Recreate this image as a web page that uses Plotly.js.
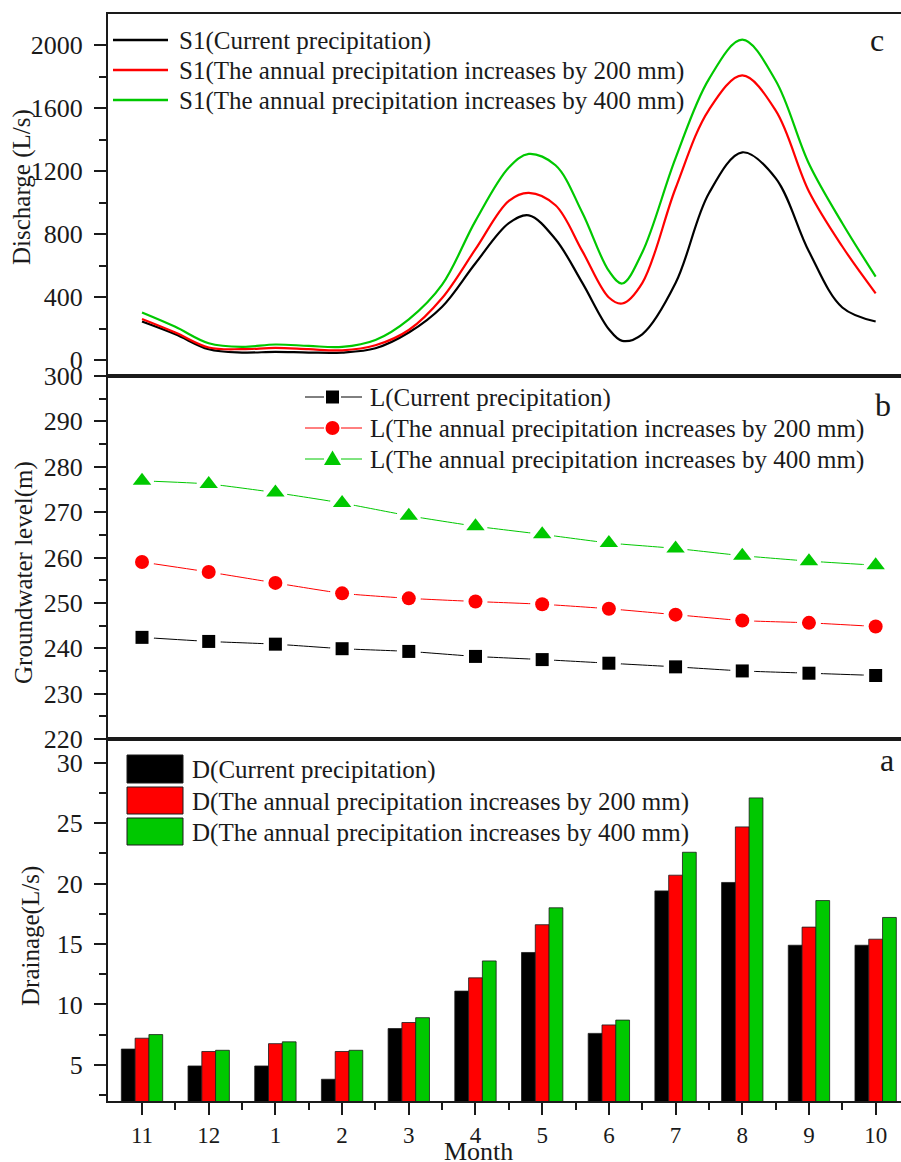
<!DOCTYPE html>
<html><head><meta charset="utf-8">
<script src="https://cdn.plot.ly/plotly-3.0.1.min.js"></script>
<style>html,body{margin:0;padding:0;background:#fff;overflow:hidden}#chart{width:901px;height:1162px}
#chart text{font-family:'Liberation Serif' !important;}</style>
</head><body><div id="chart"></div>
<script>
// ---------- data ----------
const months = ['11','12','1','2','3','4','5','6','7','8','9','10'];

// panel a: drainage (L/s)
const drainCurrent = [6.3, 4.9, 4.9, 3.8, 8.0, 11.1, 14.3, 7.6, 19.4, 20.1, 14.9, 14.9];
const drain200     = [7.2, 6.1, 6.75, 6.1, 8.5, 12.2, 16.6, 8.3, 20.7, 24.7, 16.4, 15.4];
const drain400     = [7.5, 6.2, 6.9, 6.2, 8.9, 13.6, 18.0, 8.7, 22.6, 27.1, 18.6, 17.2];
const drainTicks   = [5, 10, 15, 20, 25, 30];

// panel b: groundwater level (m)
const levelCurrent = [242.4, 241.5, 240.9, 239.9, 239.3, 238.2, 237.5, 236.7, 235.9, 235.0, 234.5, 234.0];
const level200     = [259.0, 256.8, 254.4, 252.1, 251.0, 250.3, 249.7, 248.7, 247.4, 246.1, 245.6, 244.8];
const level400     = [276.9, 276.2, 274.3, 272.0, 269.2, 266.9, 265.1, 263.2, 262.0, 260.4, 259.2, 258.3];
const levelTicks   = [220, 230, 240, 250, 260, 270, 280, 290, 300];

// panel c: discharge (L/s) (position in months from "11")
const dischargePos     = [0, 0.5, 1, 1.5, 2, 2.5, 3, 3.5, 4, 4.5, 5, 5.5, 5.8, 6.2, 6.6, 7, 7.2, 7.5, 8, 8.5, 9, 9.5, 10, 10.5, 11];
const dischargeCurrent = [246, 165, 70, 49, 53, 49, 49, 76, 176, 340, 616, 870, 920, 768, 493, 197, 123, 165, 490, 1060, 1320, 1156, 690, 335, 246];
const discharge200     = [262, 176, 81, 70, 78, 70, 63, 95, 192, 395, 705, 1012, 1063, 984, 694, 398, 360, 490, 1092, 1590, 1808, 1586, 1071, 722, 425];
const discharge400     = [303, 212, 108, 85, 100, 91, 85, 129, 260, 480, 885, 1224, 1310, 1238, 938, 567, 487, 684, 1283, 1785, 2035, 1776, 1247, 870, 531];
const dischargeTicks   = [0, 400, 800, 1200, 1600, 2000];

const legendC = ['S1(Current precipitation)', 'S1(The annual precipitation increases by 200 mm)', 'S1(The annual precipitation increases by 400 mm)'];
const legendB = ['L(Current precipitation)', 'L(The annual precipitation increases by 200 mm)', 'L(The annual precipitation increases by 400 mm)'];
const legendA = ['D(Current precipitation)', 'D(The annual precipitation increases by 200 mm)', 'D(The annual precipitation increases by 400 mm)'];
const panelLabels = ['c', 'b', 'a'];
const yTitles = ['Discharge (L/s)', 'Groundwater level(m)', 'Drainage(L/s)'];
const xTitle = 'Month';

// ---------- layout helpers ----------
const W = 901, H = 1162, ML = 108, MR = 0, MT = 14, MB = 61;
const PW = W - ML - MR, PH = H - MT - MB;
const px = x => (x - ML) / PW;
const py = y => (H - MB - y) / PH;
const BLACK = '#000000', RED = '#ff0000', GREEN = '#00c800';
const TXT = '#1a1a1a';
const FONT = 'Liberation Serif';
const idx = months.map((m, i) => i);
const XR = [-0.51, 11.38];

const domA = [0, py(739)], domB = [py(739), py(376)], domC = [py(376), 1];

const traces = [];
// panel c
[[dischargeCurrent, BLACK, legendC[0]], [discharge200, RED, legendC[1]], [discharge400, GREEN, legendC[2]]].forEach(([v, c, n]) => {
  traces.push({type: 'scatter', mode: 'lines', x: dischargePos, y: v, name: n, xaxis: 'x3', yaxis: 'y3',
    line: {color: c, width: 2.2, shape: 'spline', smoothing: 1}, showlegend: false});
});
// panel b
const bSeries = [[levelCurrent, BLACK, 'square', 13, legendB[0]], [level200, RED, 'circle', 14, legendB[1]], [level400, GREEN, 'triangle-up', 16, legendB[2]]];
bSeries.forEach(([v, c, s, sz, n]) => {
  traces.push({type: 'scatter', mode: 'lines', x: idx, y: v, name: n, xaxis: 'x2', yaxis: 'y2',
    line: {color: c, width: 1, shape: 'spline', smoothing: 0.5}, showlegend: false});
});
bSeries.forEach(([v, c, s, sz, n]) => {
  traces.push({type: 'scatter', mode: 'markers', x: idx, y: v, xaxis: 'x2', yaxis: 'y2',
    marker: {symbol: 'circle', size: 24, color: '#ffffff'}, showlegend: false});
});
bSeries.forEach(([v, c, s, sz, n]) => {
  traces.push({type: 'scatter', mode: 'markers', x: idx, y: v, name: n, xaxis: 'x2', yaxis: 'y2',
    marker: {symbol: s, size: sz, color: c, line: {width: 0}}, showlegend: false});
});
// panel a
[[drainCurrent, BLACK, legendA[0]], [drain200, RED, legendA[1]], [drain400, GREEN, legendA[2]]].forEach(([v, c, n]) => {
  traces.push({type: 'bar', x: idx, y: v, name: n, xaxis: 'x', yaxis: 'y',
    marker: {color: c, line: {color: '#1a1a1a', width: 0.8}}, showlegend: false});
});

// ---------- legends (drawn) ----------
const shapes = [], annotations = [];
const txt = (x, y, text, size, xa, ya, extra) => Object.assign({xref: 'paper', yref: 'paper', x: px(x), y: py(y), text: text,
  showarrow: false, xanchor: xa || 'left', yanchor: ya || 'middle', font: {family: FONT, size: size || 25, color: TXT}}, extra || {});
const lineShape = (x0, y0, x1, y1, c, w) => ({type: 'line', xref: 'paper', yref: 'paper', x0: px(x0), y0: py(y0), x1: px(x1), y1: py(y1), line: {color: c, width: w}});

// legend c
const cRows = [40, 70, 100], cCols = [BLACK, RED, GREEN];
cRows.forEach((y, i) => {
  shapes.push(lineShape(113, y, 168, y, cCols[i], 2.4));
  annotations.push(txt(177, y + 1, legendC[i]));
});
// legend b
const bRows = [397, 428, 459];
bRows.forEach((y, i) => {
  shapes.push(lineShape(305, y, 324, y, cCols[i], 1));
  shapes.push(lineShape(341, y, 362, y, cCols[i], 1));
  const cx = 332.5;
  if (i === 0) shapes.push({type: 'rect', xref: 'paper', yref: 'paper', x0: px(cx - 6.5), x1: px(cx + 6.5), y0: py(y + 6.5), y1: py(y - 6.5), fillcolor: BLACK, line: {width: 0}});
  if (i === 1) shapes.push({type: 'circle', xref: 'paper', yref: 'paper', x0: px(cx - 7), x1: px(cx + 7), y0: py(y + 7), y1: py(y - 7), fillcolor: RED, line: {width: 0}});
  if (i === 2) shapes.push({type: 'path', xref: 'paper', yref: 'paper',
    path: `M ${px(cx - 8.5)} ${py(y + 6)} L ${px(cx + 8.5)} ${py(y + 6)} L ${px(cx)} ${py(y - 8.5)} Z`, fillcolor: GREEN, line: {width: 0}});
  annotations.push(txt(368, y + 1, legendB[i]));
});
// legend a
const aRows = [[755, 783], [787, 814], [818, 845]];
aRows.forEach(([y0, y1], i) => {
  shapes.push({type: 'rect', xref: 'paper', yref: 'paper', x0: px(127), x1: px(183), y0: py(y1), y1: py(y0), fillcolor: cCols[i], line: {color: '#1a1a1a', width: 1}});
  annotations.push(txt(190, (y0 + y1) / 2 + 1, legendA[i]));
});
// panel letters
annotations.push(txt(877, 40, panelLabels[0], 32, 'center'));
annotations.push(txt(883, 405, panelLabels[1], 32, 'center'));
annotations.push(txt(887, 760, panelLabels[2], 32, 'center'));
// y titles
annotations.push(txt(22, 187, yTitles[0], 25, 'center', 'middle', {textangle: -90}));
annotations.push(txt(24, 573, yTitles[1], 25, 'center', 'middle', {textangle: -90}));
annotations.push(txt(31, 936, yTitles[2], 25, 'center', 'middle', {textangle: -90}));
// x title
annotations.push(txt(478, 1151, xTitle, 26, 'center'));

// ---------- axes ----------
const xAxis = extra => Object.assign({range: XR.slice(), showgrid: false, zeroline: false, showline: true, linewidth: 2, linecolor: '#1a1a1a',
  mirror: true, fixedrange: true}, extra);
const yAxis = (ticks, extra) => Object.assign({showgrid: false, zeroline: false, showline: true, linewidth: 2, linecolor: '#1a1a1a',
  tickmode: 'array', tickvals: ticks, ticktext: ticks.map(String),
  ticks: 'outside', ticklen: 12, tickwidth: 2, tickcolor: '#1a1a1a',
  tickfont: {family: FONT, size: 26, color: TXT}, ticklabelstandoff: 6, fixedrange: true}, extra);
const minorY = (t0, dt) => ({tickmode: 'linear', tick0: t0, dtick: dt, ticks: 'outside', ticklen: 7, tickwidth: 2, tickcolor: '#1a1a1a'});

const layout = {
  width: W, height: H, margin: {l: ML, r: MR, t: MT, b: MB}, paper_bgcolor: '#fff', plot_bgcolor: '#fff',
  font: {family: FONT, color: TXT, size: 25}, showlegend: false,
  barmode: 'group', bargap: 0.38, bargroupgap: 0,
  xaxis: xAxis({anchor: 'y', domain: [0, 1], tickmode: 'array', tickvals: idx, ticktext: months, ticks: 'outside', ticklen: 12, tickwidth: 2,
    tickcolor: '#1a1a1a', tickfont: {family: FONT, size: 23, color: TXT}, ticklabelstandoff: 0,
    minor: {tickmode: 'array', tickvals: idx.map(i => i + 0.5), ticks: 'outside', ticklen: 7, tickwidth: 2, tickcolor: '#1a1a1a'}}),
  xaxis2: xAxis({anchor: 'y2', domain: [0, 1], showticklabels: false, ticks: ''}),
  xaxis3: xAxis({anchor: 'y3', domain: [0, 1], showticklabels: false, ticks: ''}),
  yaxis: yAxis(drainTicks, {domain: domA, anchor: 'x', range: [2, 31.98], minor: minorY(0, 2.5)}),
  yaxis2: yAxis(levelTicks, {domain: domB, anchor: 'x2', range: [220, 300], minor: minorY(220, 5)}),
  yaxis3: yAxis(dischargeTicks, {domain: domC, anchor: 'x3', range: [-100, 2198], minor: minorY(0, 200)}),
  shapes: shapes, annotations: annotations
};

Plotly.newPlot('chart', traces, layout, {staticPlot: true, displayModeBar: false});
</script></body></html>
